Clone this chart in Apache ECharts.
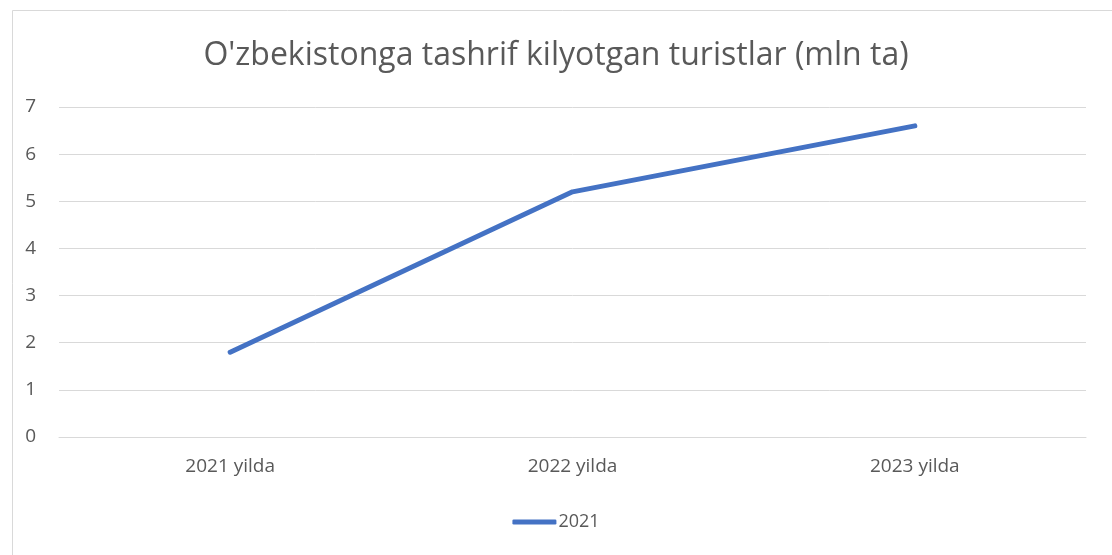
<!DOCTYPE html>
<html>
<head>
<meta charset="utf-8">
<script src="https://cdn.jsdelivr.net/npm/echarts@6/dist/echarts.min.js"></script>
<style>
  html, body { margin: 0; padding: 0; background: #fff; }
  #chart { width: 1112px; height: 555px; }
</style>
</head>
<body>
<div id="chart"></div>
<script>
const categories = ['2021 yilda', '2022 yilda', '2023 yilda'];
const touristValues = [1.8, 5.2, 6.6];
const seriesName = '2021';
const titleText = "O'zbekistonga tashrif kilyotgan turistlar (mln ta)";

const myChart = echarts.init(document.getElementById('chart'));
const font = 'Open Sans, Noto Sans, sans-serif';

const option = {
  animation: false,
  backgroundColor: '#fff',
  graphic: [
    {
      type: 'rect',
      left: 10,
      top: 8,
      shape: { width: 1120, height: 560 },
      style: { fill: 'none', stroke: '#d9d9d9', lineWidth: 1 },
      silent: true
    }
  ],
  title: {
    text: titleText,
    left: 'center',
    top: 35,
    textStyle: { color: '#595959', fontSize: 32, fontWeight: 'normal', fontFamily: font }
  },
  legend: {
    bottom: 19,
    left: 'center',
    itemWidth: 44,
    itemHeight: 5,
    itemGap: 2,
    icon: 'roundRect',
    data: [seriesName],
    textStyle: { color: '#595959', fontSize: 18, fontFamily: font, padding: [0, 0, 0, -3] }
  },
  grid: { left: 59, right: 26, top: 107, bottom: 118, containLabel: false },
  xAxis: {
    type: 'category',
    data: categories,
    boundaryGap: true,
    axisLine: { show: true, lineStyle: { color: '#d9d9d9', width: 1 } },
    axisTick: { show: false },
    axisLabel: { color: '#595959', fontSize: 19, fontFamily: font, margin: 20 }
  },
  yAxis: {
    type: 'value',
    min: 0,
    max: 7,
    interval: 1,
    axisLine: { show: false },
    axisTick: { show: false },
    splitLine: { lineStyle: { color: '#d9d9d9', width: 1 } },
    axisLabel: { color: '#595959', fontSize: 19, fontFamily: font, margin: 23 }
  },
  series: [
    {
      name: seriesName,
      type: 'line',
      data: touristValues,
      symbol: 'none',
      lineStyle: { color: '#4472C4', width: 5, cap: 'round', join: 'round' },
      itemStyle: { color: '#4472C4' }
    }
  ]
};

myChart.setOption(option);
</script>
</body>
</html>
